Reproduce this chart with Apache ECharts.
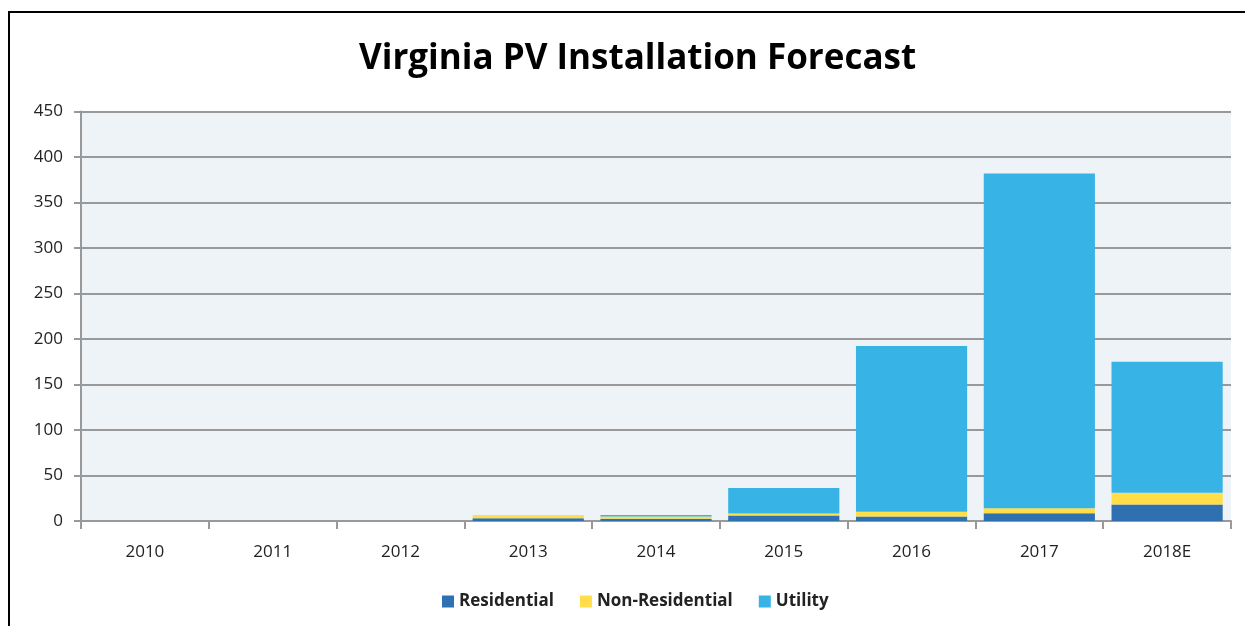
<!DOCTYPE html>
<html><head><meta charset="utf-8">
<script src="https://cdn.jsdelivr.net/npm/echarts@6/dist/echarts.min.js"></script>
<style>html,body{margin:0;padding:0;background:#fff}#c{width:1245px;height:626px}</style>
</head><body><div id="c"></div>
<script>
const categories = ['2010','2011','2012','2013','2014','2015','2016','2017','2018E'];
const residential = [0, 0, 0, 3, 2.5, 6, 5, 8.5, 18];
const nonResidential = [0, 0, 0, 3.5, 2.5, 2.2, 5.2, 5.5, 13];
const utility = [0, 0, 0, 0, 1.5, 28, 182, 368, 144];
const yTicks = [0, 50, 100, 150, 200, 250, 300, 350, 400, 450];

const font = '"Open Sans", "Liberation Sans", sans-serif';
const chart = echarts.init(document.getElementById('c'));
chart.setOption({
  animation: false,
  backgroundColor: '#fff',
  title: {
    text: 'Virginia PV Installation Forecast',
    left: 354, top: 37,
    textStyle: {fontFamily: font, fontWeight: 'bold', fontSize: 35, color: '#000'}
  },
  graphic: [{
    type: 'rect', shape: {x: 9, y: 12, width: 1400, height: 800},
    style: {fill: 'none', stroke: '#000', lineWidth: 2}, silent: true, z: 100
  }],
  legend: {
    bottom: 11, left: 437, itemWidth: 12, itemHeight: 12, itemGap: 26,
    icon: 'rect',
    textStyle: {fontFamily: font, fontWeight: 'bold', fontSize: 17, color: '#222'},
    data: ['Residential', 'Non-Residential', 'Utility']
  },
  grid: {left: 81, right: 14, top: 111.5, bottom: 105, backgroundColor: '#eef3f7', show: true, borderWidth: 0},
  xAxis: {
    type: 'category', data: categories,
    axisLine: {lineStyle: {color: '#999', width: 2}},
    axisTick: {show: true, length: 8, lineStyle: {color: '#999', width: 2}},
    axisLabel: {fontFamily: font, fontSize: 17, color: '#222', margin: 23}
  },
  yAxis: {
    type: 'value', min: 0, max: 450, interval: 50,
    axisLine: {show: true, lineStyle: {color: '#999', width: 2}},
    axisTick: {show: true, length: 7, lineStyle: {color: '#999', width: 2}},
    splitLine: {lineStyle: {color: '#999', width: 2}},
    axisLabel: {fontFamily: font, fontSize: 17, color: '#222', margin: 18,
      formatter: v => yTicks.includes(v) ? String(v) : ''}
  },
  series: [
    {name: 'Residential', type: 'bar', stack: 's', data: residential, itemStyle: {color: '#2e70b0'}, barCategoryGap: '13%'},
    {name: 'Non-Residential', type: 'bar', stack: 's', data: nonResidential, itemStyle: {color: '#ffde48'}},
    {name: 'Utility', type: 'bar', stack: 's', data: utility, itemStyle: {color: '#37b3e5'}}
  ]
});
</script></body></html>
